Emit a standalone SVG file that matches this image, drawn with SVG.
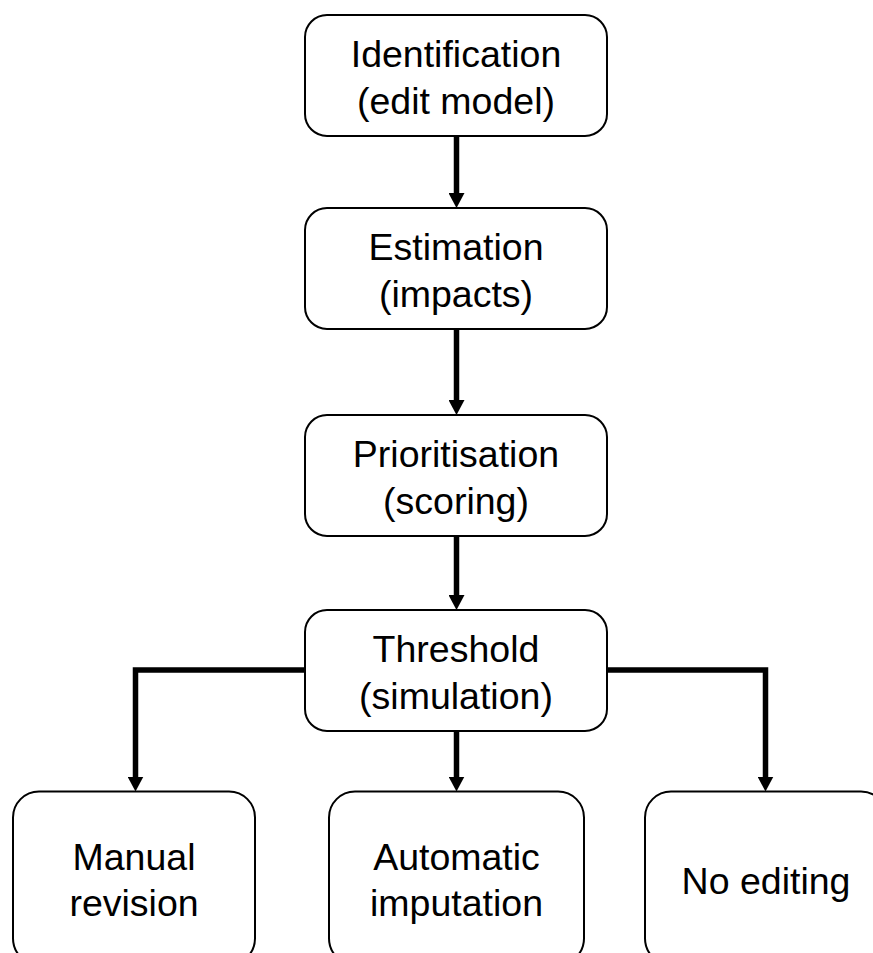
<svg xmlns="http://www.w3.org/2000/svg" width="873" height="953" viewBox="0 0 873 953">
<defs>
<style>
.box{fill:#fff;stroke:#000;stroke-width:2}
.t{font-family:"Liberation Sans",Arial,sans-serif;font-size:37.5px;fill:#000;text-anchor:middle}
.c{fill:none;stroke:#000;stroke-width:5.5;marker-end:url(#ah)}
</style>
<marker id="ah" markerUnits="userSpaceOnUse" markerWidth="16" markerHeight="16" refX="4" refY="8" orient="auto" viewBox="0 0 16 16">
<path d="M0,0 L15,8 L0,16 z" fill="#000"/>
</marker>
</defs>
<rect width="873" height="953" fill="#fff"/>
<g id="connectors">
<path class="c" d="M456.5,136 V197"/>
<path class="c" d="M456.5,329 V404"/>
<path class="c" d="M456.5,536 V599"/>
<path class="c" d="M456.5,731 V780.5"/>
<path class="c" d="M305,670 H135.5 V780.5"/>
<path class="c" d="M607,670 H765.5 V780.5"/>
</g>
<g id="identification">
<rect class="box" x="305" y="15" width="302" height="121" rx="22"/>
<text class="t" x="456" y="67">Identification</text>
<text class="t" x="456" y="114">(edit model)</text>
</g>
<g id="estimation">
<rect class="box" x="305" y="208" width="302" height="121" rx="22"/>
<text class="t" x="456" y="260">Estimation</text>
<text class="t" x="456" y="307">(impacts)</text>
</g>
<g id="prioritisation">
<rect class="box" x="305" y="415" width="302" height="121" rx="22"/>
<text class="t" x="456" y="467">Prioritisation</text>
<text class="t" x="456" y="514">(scoring)</text>
</g>
<g id="threshold">
<rect class="box" x="305" y="610" width="302" height="121" rx="22"/>
<text class="t" x="456" y="662">Threshold</text>
<text class="t" x="456" y="709">(simulation)</text>
</g>
<g id="manual">
<rect class="box" x="13" y="791.5" width="242" height="173" rx="26"/>
<text class="t" x="134" y="870">Manual</text>
<text class="t" x="134" y="916">revision</text>
</g>
<g id="automatic">
<rect class="box" x="329" y="791.5" width="255" height="173" rx="26"/>
<text class="t" x="456.5" y="870">Automatic</text>
<text class="t" x="456.5" y="916">imputation</text>
</g>
<g id="noediting">
<rect class="box" x="645" y="791.5" width="242" height="173" rx="26"/>
<text class="t" x="766" y="894">No editing</text>
</g>
</svg>
